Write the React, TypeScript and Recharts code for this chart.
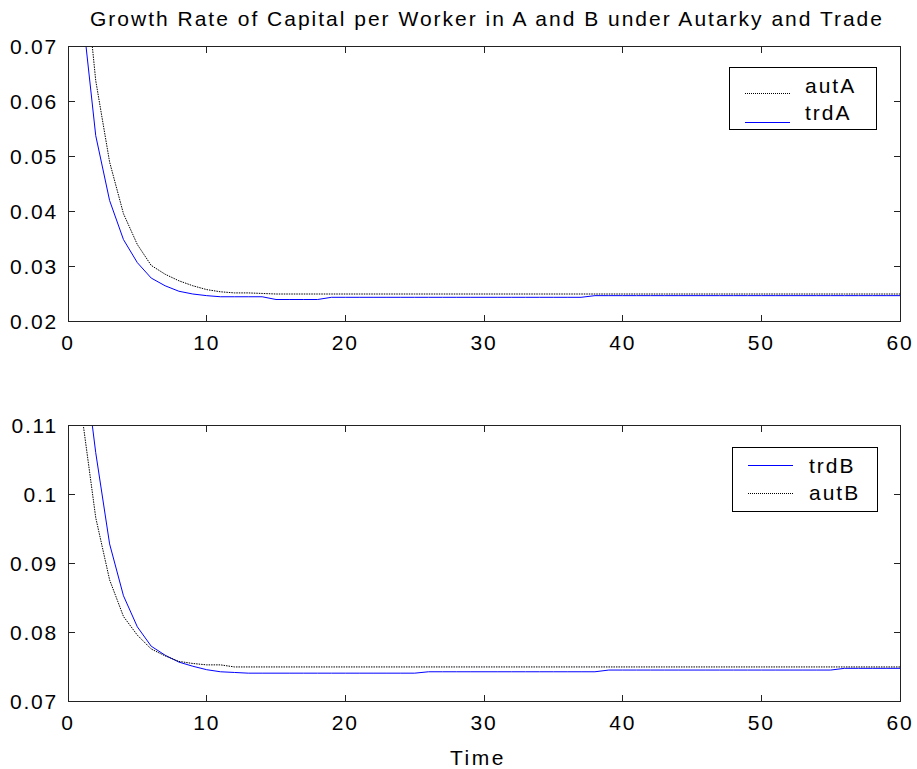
import { LineChart, Line, XAxis, YAxis } from "recharts";

const time = [
  1, 2, 3, 4, 5, 6, 7, 8, 9, 10, 11, 12, 13, 14, 15, 16, 17, 18, 19, 20,
  21, 22, 23, 24, 25, 26, 27, 28, 29, 30, 31, 32, 33, 34, 35, 36, 37, 38, 39, 40,
  41, 42, 43, 44, 45, 46, 47, 48, 49, 50, 51, 52, 53, 54, 55, 56, 57, 58, 59, 60,
];

// capital per worker growth, country A
const autA = [
  0.089, 0.0638, 0.049, 0.0396, 0.034, 0.0302, 0.0286, 0.0274, 0.0265, 0.0258,
  0.0254, 0.0252, 0.0252, 0.0251, 0.025, 0.025, 0.025, 0.025, 0.025, 0.025,
  0.025, 0.025, 0.025, 0.025, 0.025, 0.025, 0.025, 0.025, 0.025, 0.025,
  0.025, 0.025, 0.025, 0.025, 0.025, 0.025, 0.025, 0.025, 0.025, 0.025,
  0.025, 0.025, 0.025, 0.025, 0.025, 0.025, 0.025, 0.025, 0.025, 0.025,
  0.025, 0.025, 0.025, 0.025, 0.025, 0.025, 0.025, 0.025, 0.025, 0.025,
];
const trdA = [
  0.077, 0.0538, 0.042, 0.0349, 0.0307, 0.0279, 0.0265, 0.0255, 0.025, 0.0247,
  0.0245, 0.0245, 0.0245, 0.0245, 0.024, 0.024, 0.024, 0.024, 0.0244, 0.0244,
  0.0244, 0.0244, 0.0244, 0.0244, 0.0244, 0.0244, 0.0244, 0.0244, 0.0244, 0.0244,
  0.0244, 0.0244, 0.0244, 0.0244, 0.0244, 0.0244, 0.0244, 0.0247, 0.0247, 0.0247,
  0.0247, 0.0247, 0.0247, 0.0247, 0.0247, 0.0247, 0.0247, 0.0247, 0.0247, 0.0247,
  0.0247, 0.0247, 0.0247, 0.0247, 0.0247, 0.0247, 0.0247, 0.0247, 0.0247, 0.0247,
];

// country B
const trdB = [
  0.122, 0.106, 0.0928, 0.0853, 0.0808, 0.078, 0.0767, 0.0757, 0.0751, 0.0746,
  0.0743, 0.0742, 0.0741, 0.0741, 0.0741, 0.0741, 0.0741, 0.0741, 0.0741, 0.0741,
  0.0741, 0.0741, 0.0741, 0.0741, 0.0741, 0.0743, 0.0743, 0.0743, 0.0743, 0.0743,
  0.0743, 0.0743, 0.0743, 0.0743, 0.0743, 0.0743, 0.0743, 0.0743, 0.07455, 0.07455,
  0.07455, 0.07455, 0.07455, 0.07455, 0.07455, 0.07455, 0.07455, 0.07455, 0.07455, 0.07455,
  0.07455, 0.07455, 0.07455, 0.07455, 0.07455, 0.0748, 0.0748, 0.0748, 0.0748, 0.0748,
];
const autB = [
  0.1115, 0.0966, 0.0876, 0.0823, 0.0796, 0.0776, 0.0766, 0.0758, 0.0755, 0.0753,
  0.0753, 0.075, 0.075, 0.075, 0.075, 0.075, 0.075, 0.075, 0.075, 0.075,
  0.075, 0.075, 0.075, 0.075, 0.075, 0.075, 0.075, 0.075, 0.075, 0.075,
  0.075, 0.075, 0.075, 0.075, 0.075, 0.075, 0.075, 0.075, 0.075, 0.075,
  0.075, 0.075, 0.075, 0.075, 0.075, 0.075, 0.075, 0.075, 0.075, 0.075,
  0.075, 0.075, 0.075, 0.075, 0.075, 0.075, 0.075, 0.075, 0.075, 0.075,
];

const xTicks = [0, 10, 20, 30, 40, 50, 60];
const yTicksA = [0.02, 0.03, 0.04, 0.05, 0.06, 0.07];
const yTicksB = [0.07, 0.08, 0.09, 0.1, 0.11];

const FONT = "'Liberation Sans', Arial, Helvetica, sans-serif";
const label = { fontSize: 21, fill: "#000", letterSpacing: 1.8 };
const INK = "#222";
const TICK = 7;

// plot box, shared by both panels
const PLOT_LEFT = 68;
const PLOT_WIDTH = 832;

const dataA = time.map((t, i) => ({ t, autA: autA[i], trdA: trdA[i] }));
const dataB = time.map((t, i) => ({ t, trdB: trdB[i], autB: autB[i] }));

const BottomLabel = ({ x, y, payload }: any) => (
  <text x={x} y={y + 28} textAnchor="middle" {...label}>
    {payload.value}
  </text>
);
const LeftLabel = ({ x, y, payload }: any) => (
  <text x={x - 10} y={y + 7.5} textAnchor="end" {...label}>
    {payload.value}
  </text>
);

// matlab style box with inward ticks on all four sides
const PlotFrame = ({ top, height, yTicks, yDomain }: any) => {
  const bottom = top + height;
  const xAt = (v: number) => Math.floor(PLOT_LEFT + (v / 60) * PLOT_WIDTH);
  const yAt = (v: number) =>
    Math.floor(bottom - ((v - yDomain[0]) / (yDomain[1] - yDomain[0])) * height);
  const mark = (l: number, t: number, w: number, h: number, k: string) => (
    <div key={k} style={{ position: "absolute", left: l, top: t, width: w, height: h, background: INK }} />
  );
  return (
    <>
      <div
        style={{
          position: "absolute",
          left: PLOT_LEFT,
          top: Math.floor(top),
          width: PLOT_WIDTH + 1,
          height: Math.floor(bottom) - Math.floor(top) + 1,
          border: `1px solid ${INK}`,
          boxSizing: "border-box",
        }}
      />
      {xTicks.slice(1, -1).map((v) => [
        mark(xAt(v), Math.floor(top), 1, TICK, `t${v}`),
        mark(xAt(v), Math.floor(bottom) - TICK + 1, 1, TICK, `b${v}`),
      ])}
      {yTicks.slice(1, -1).map((v: number) => [
        mark(PLOT_LEFT, yAt(v), TICK, 1, `l${v}`),
        mark(PLOT_LEFT + PLOT_WIDTH - TICK + 1, yAt(v), TICK, 1, `r${v}`),
      ])}
    </>
  );
};

const text = {
  position: "absolute",
  fontSize: 21,
  lineHeight: "24px",
  letterSpacing: 2,
  whiteSpace: "nowrap",
} as const;

const LegendBox = ({ left, top, width, height, rows }: any) => (
  <div
    style={{
      position: "absolute",
      left,
      top,
      width,
      height,
      border: "1px solid #000",
      background: "#fff",
      boxSizing: "border-box",
    }}
  >
    {rows.map((r: any) => (
      <div key={r.name}>
        {r.dotted ? (
          <div style={{ position: "absolute", left: 15, top: r.lineY, width: 45, borderTop: "1px dotted #000" }} />
        ) : (
          <div style={{ position: "absolute", left: 15, top: r.lineY, width: 45, height: 1, background: "#0000ff" }} />
        )}
        <div style={{ ...text, left: r.textX, top: r.textY }}>{r.name}</div>
      </div>
    ))}
  </div>
);

const App = () => {
  return (
    <div
      style={{
        position: "absolute",
        left: 0,
        top: 0,
        width: 917,
        height: 769,
        background: "#fff",
        fontFamily: FONT,
      }}
    >
      <div style={{ ...text, left: 87, top: 6.5, width: 800, textAlign: "center" }}>
        Growth Rate of Capital per Worker in A and B under Autarky and Trade
      </div>

      <div style={{ position: "absolute", left: 0, top: 0 }}>
        <LineChart
          width={917}
          height={380}
          data={dataA}
          margin={{ top: 46.5, right: 17, left: 8, bottom: 28.5 }}
        >
          <XAxis dataKey="t" type="number" domain={[0, 60]} ticks={xTicks} interval={0}
            allowDataOverflow height={30} tickSize={0} tickMargin={0} tickLine={false}
            axisLine={false} tick={BottomLabel} />
          <YAxis type="number" domain={[0.02, 0.07]} ticks={yTicksA} interval={0} allowDataOverflow
            width={60} tickSize={0} tickMargin={0} tickLine={false} axisLine={false} tick={LeftLabel} />
          <Line dataKey="autA" stroke="#000" strokeWidth={1} strokeDasharray="1.5 1"
            dot={false} isAnimationActive={false} />
          <Line dataKey="trdA" stroke="#0000ff" strokeWidth={1} dot={false} isAnimationActive={false} />
        </LineChart>
      </div>
      <div style={{ position: "absolute", left: 0, top: 380 }}>
        <LineChart
          width={917}
          height={389}
          data={dataB}
          margin={{ top: 45, right: 17, left: 8, bottom: 37.5 }}
        >
          <XAxis dataKey="t" type="number" domain={[0, 60]} ticks={xTicks} interval={0}
            allowDataOverflow height={30} tickSize={0} tickMargin={0} tickLine={false}
            axisLine={false} tick={BottomLabel} />
          <YAxis type="number" domain={[0.07, 0.11]} ticks={yTicksB} interval={0} allowDataOverflow
            width={60} tickSize={0} tickMargin={0} tickLine={false} axisLine={false} tick={LeftLabel} />
          <Line dataKey="trdB" stroke="#0000ff" strokeWidth={1} dot={false} isAnimationActive={false} />
          <Line dataKey="autB" stroke="#000" strokeWidth={1} strokeDasharray="1.5 1"
            dot={false} isAnimationActive={false} />
        </LineChart>
      </div>

      <PlotFrame top={46.5} height={275} yTicks={yTicksA} yDomain={[0.02, 0.07]} />
      <PlotFrame top={425} height={276.5} yTicks={yTicksB} yDomain={[0.07, 0.11]} />

      <LegendBox
        left={729}
        top={67}
        width={148}
        height={63}
        rows={[
          { name: "autA", dotted: true, lineY: 25, textX: 75, textY: 6 },
          { name: "trdA", dotted: false, lineY: 54, textX: 75, textY: 33 },
        ]}
      />
      <LegendBox
        left={732}
        top={447}
        width={146}
        height={65}
        rows={[
          { name: "trdB", dotted: false, lineY: 17, textX: 76, textY: 6 },
          { name: "autB", dotted: true, lineY: 45, textX: 76, textY: 33 },
        ]}
      />

      <div style={{ ...text, left: 428, top: 746, width: 100, textAlign: "center", letterSpacing: 2.5 }}>
        Time
      </div>
    </div>
  );
};

export default App;
